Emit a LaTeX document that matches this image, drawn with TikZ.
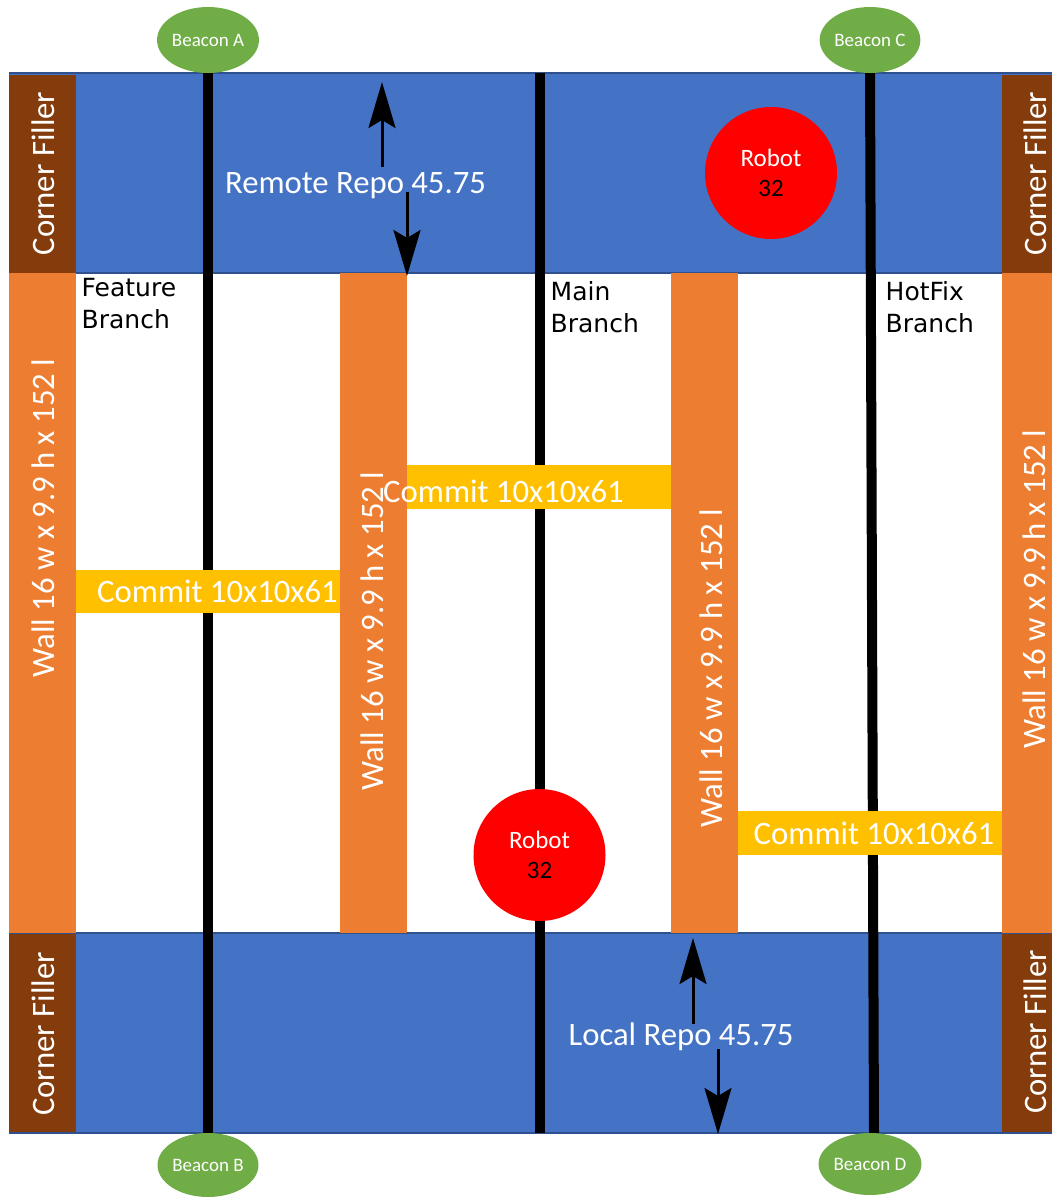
\documentclass[tikz,border=0pt]{standalone}
\usepackage{fontspec}
\setmainfont{Carlito}
\newfontfamily\labelfont{DejaVu Sans}
\usetikzlibrary{arrows.meta,shapes.geometric}
\definecolor{bandblue}{HTML}{4472C4}
\definecolor{edgeblue}{HTML}{2F528F}
\definecolor{wallorange}{HTML}{ED7D31}
\definecolor{fillerbrown}{HTML}{843C0C}
\definecolor{commityellow}{HTML}{FFC000}
\definecolor{beacongreen}{HTML}{70AD47}
\definecolor{robotred}{HTML}{FF0000}
\tikzset{
  band/.style={fill=bandblue},
  bandedge/.style={draw=edgeblue, line width=1.5pt},
  wall/.style={fill=wallorange},
  filler/.style={fill=fillerbrown},
  commitbar/.style={fill=commityellow},
  branchline/.style={line width=10pt, black},
  beacon/.style={ellipse, fill=beacongreen, minimum width=100pt, minimum height=66pt, inner sep=0pt, text=white, font=\fontsize{19}{22}\selectfont},
  robot/.style={circle, fill=robotred, minimum size=132pt, inner sep=0pt, align=center, font=\fontsize{25}{30}\selectfont},
  bigtext/.style={text=white, inner sep=0pt, font=\fontsize{32.7}{39}\selectfont},
  vtext/.style={bigtext, rotate=90},
  branchlabel/.style={inner sep=0pt, align=left, anchor=north west, font=\labelfont\fontsize{25}{32}\selectfont},
  repoarrow/.style={line width=3pt, -{Stealth[length=46pt,width=27pt,inset=8pt]}},
}
\begin{document}
\begin{tikzpicture}[x=1pt,y=-1pt]
\useasboundingbox (0,0) rectangle (1052,1197);
\fill[white] (0,0) rectangle (1052,1197);
% repo bands
\fill[band] (9,73) rectangle (1052,273);
\fill[band] (9,933) rectangle (1052,1133);
\draw[bandedge] (9,73) -- (1052,73);
\draw[bandedge] (9,273) -- (1052,273);
\draw[bandedge] (9,933) -- (1052,933);
\draw[bandedge] (9,1133) -- (1052,1133);
% corner fillers
\fill[filler] (9,74.5) rectangle (76,273);
\fill[filler] (1002,74.5) rectangle (1052,273);
\fill[filler] (9,933.5) rectangle (76,1132);
\fill[filler] (1002,933.5) rectangle (1052,1132);
% walls
\fill[wall] (9,273) rectangle (76,933);
\fill[wall] (340,273) rectangle (407,933);
\fill[wall] (671,273) rectangle (738,933);
\fill[wall] (1002,273) rectangle (1052,933);
% beacons
\node[beacon] (bA) at (208,40) {Beacon A};
\node[beacon, minimum height=64pt] (bB) at (208,1165) {Beacon B};
\node[beacon] (bC) at (870,40) {Beacon C};
\node[beacon, minimum height=62pt] (bD) at (870,1164) {Beacon D};
% branch lines
\coordinate (mainTop) at (539.5,73);
\coordinate (mainBot) at (539.5,1133);
\draw[branchline] (bA.south) -- (bB.north);
\draw[branchline] (mainTop) -- (mainBot);
\draw[branchline] (bC.south) -- ([xshift=4pt]bD.north);
% commit bars
\fill[commitbar] (76,570) rectangle (340,613);
\fill[commitbar] (407,465) rectangle (671,509);
\fill[commitbar] (738,811) rectangle (1002,855);
% robots
\node[robot] (robotTop) at (771,173) {{\color{white}Robot}\\32};
\node[robot] (robotBot) at (539.5,855) {{\color{white}Robot}\\32};
% arrows
\coordinate (rUpS) at (382,167);
\coordinate (rUpE) at (382,82);
\coordinate (rDnS) at (407,192);
\coordinate (rDnE) at (407,276);
\coordinate (lUpS) at (693,1024);
\coordinate (lUpE) at (693,938);
\coordinate (lDnS) at (718,1049);
\coordinate (lDnE) at (718,1134);
\draw[repoarrow] (rUpS) -- (rUpE);
\draw[repoarrow] (rDnS) -- (rDnE);
\draw[repoarrow] (lUpS) -- (lUpE);
\draw[repoarrow] (lDnS) -- (lDnE);
% texts
\node[bigtext, anchor=base] (remote) at (355.5,193) {Remote Repo 45.75};
\node[bigtext, anchor=base] (local) at (681,1045) {Local Repo 45.75};
\node[vtext] (cf1) at (43,173.5) {Corner Filler};
\node[vtext] (cf2) at (1035,173.5) {Corner Filler};
\node[vtext] (cf3) at (43.5,1034) {Corner Filler};
\node[vtext] (cf4) at (1035,1032) {Corner Filler};
\node[vtext] (w1) at (43.3,518) {Wall 16 w x 9.9 h x 152 l};
\node[vtext] (w2) at (372.5,631) {Wall 16 w x 9.9 h x 152 l};
\node[vtext] (w3) at (711,668) {Wall 16 w x 9.9 h x 152 l};
\node[vtext] (w4) at (1034,589) {Wall 16 w x 9.9 h x 152 l};
\node[bigtext, anchor=base] (c1) at (217.5,602) {Commit 10x10x61};
\node[bigtext, anchor=base] (c2) at (503.5,502) {Commit 10x10x61};
\node[bigtext, anchor=base] (c3) at (874,844) {Commit 10x10x61};
\node[branchlabel] (feature) at (81.5,278) {Feature\\Branch};
\node[branchlabel] (mainlbl) at (550.5,281) {Main\\Branch};
\node[branchlabel] (hotfix) at (885.5,281) {HotFix\\Branch};
\end{tikzpicture}
\end{document}
